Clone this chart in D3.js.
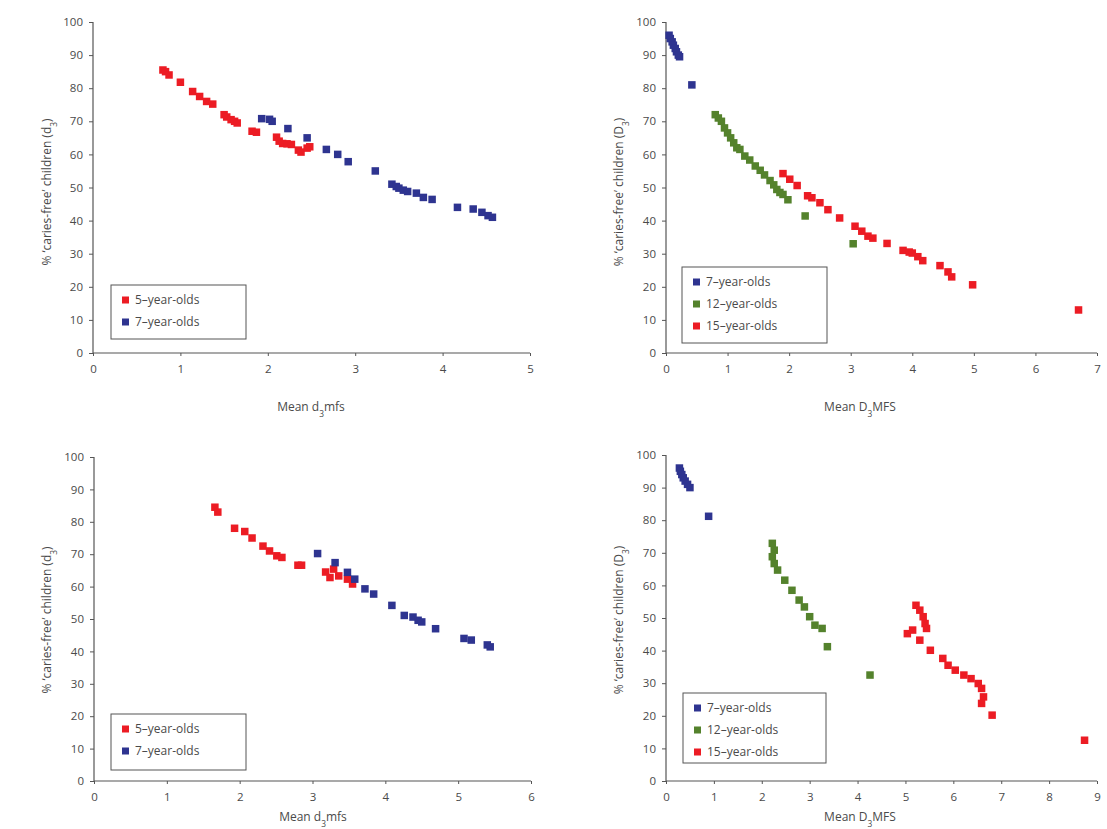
<!DOCTYPE html>
<html><head><meta charset="utf-8">
<script src="https://cdn.jsdelivr.net/npm/d3@7"></script>
<style>
body{margin:0;background:#fff}
svg{display:block}
text{font-family:"Open Sans","Noto Sans",sans-serif}
</style>
</head><body>
<svg id="chart" width="1107" height="829"></svg>
<script>
// ---------- data ----------
const yTicks = [0,10,20,30,40,50,60,70,80,90,100];
const xTicksA = [0,1,2,3,4,5];
const xTicksB = [0,1,2,3,4,5,6,7];
const xTicksC = [0,1,2,3,4,5,6];
const xTicksD = [0,1,2,3,4,5,6,7,8,9];

const legendTwo = ["5\u2013year-olds","7\u2013year-olds"];
const legendThree = ["7\u2013year-olds","12\u2013year-olds","15\u2013year-olds"];

// Panel 1: mean d3mfs vs % caries-free (d3)
const p1Age5 = [[0.8,85.5],[0.83,85],[0.87,84],[1.0,81.8],[1.14,79],[1.22,77.5],[1.3,76],[1.37,75.2],
  [1.5,72],[1.53,71.3],[1.58,70.5],[1.62,70],[1.65,69.5],[1.82,67],[1.87,66.7],[2.1,65.2],[2.13,64],
  [2.17,63.3],[2.22,63.2],[2.27,63],[2.35,61.3],[2.38,60.7],[2.45,61.9],[2.48,62.3]];
const p1Age7 = [[1.93,70.8],[2.02,70.6],[2.05,70],[2.23,67.8],[2.45,65],[2.67,61.5],[2.8,60],[2.92,57.8],
  [3.23,55],[3.42,51],[3.47,50.3],[3.5,49.8],[3.55,49.2],[3.6,48.8],[3.7,48.3],[3.78,47],[3.88,46.4],
  [4.17,44],[4.35,43.5],[4.45,42.5],[4.52,41.5],[4.57,41]];

// Panel 2: mean D3MFS vs % caries-free (D3)
const p2Age7 = [[0.05,96],[0.07,95],[0.1,94],[0.12,93],[0.15,92],[0.17,91],[0.2,90],[0.22,89.5],[0.42,81]];
const p2Age12 = [[0.8,72],[0.85,71],[0.9,70],[0.95,68],[1.0,66.5],[1.05,65],[1.1,63.5],[1.15,62],[1.2,61.5],
  [1.28,59.5],[1.36,58.3],[1.45,56.5],[1.53,55.2],[1.6,53.8],[1.69,52.1],[1.75,50.8],[1.8,49.4],[1.85,48.5],
  [1.9,47.9],[1.98,46.3],[2.26,41.4],[3.04,33]];
const p2Age15 = [[1.9,54.2],[2.01,52.5],[2.13,50.6],[2.3,47.5],[2.37,46.9],[2.5,45.4],[2.63,43.3],[2.82,40.8],
  [3.07,38.3],[3.18,36.8],[3.28,35.3],[3.36,34.7],[3.59,33.1],[3.85,31],[3.95,30.5],[4.0,30.2],[4.09,29.1],
  [4.17,27.9],[4.45,26.4],[4.58,24.5],[4.64,23],[4.98,20.6],[6.7,13]];

// Panel 3: mean d3mfs vs % caries-free (d3)
const p3Age5 = [[1.66,84.5],[1.7,83],[1.93,78],[2.07,77],[2.17,75],[2.32,72.5],[2.41,71],[2.51,69.5],[2.58,69],
  [2.8,66.6],[2.85,66.6],[3.18,64.5],[3.24,62.8],[3.29,65.4],[3.36,63.3],[3.48,62.3],[3.55,60.8]];
const p3Age7 = [[3.07,70.2],[3.31,67.4],[3.48,64.4],[3.58,62.3],[3.72,59.3],[3.84,57.7],[4.09,54.2],[4.26,51.1],
  [4.38,50.6],[4.45,49.6],[4.5,49.1],[4.69,47],[5.08,44],[5.18,43.5],[5.4,42],[5.44,41.4]];

// Panel 4: mean D3MFS vs % caries-free (D3)
const p4Age7 = [[0.28,96],[0.3,95],[0.33,94],[0.36,93],[0.4,92],[0.45,91],[0.5,90],[0.89,81.2]];
const p4Age12 = [[2.22,72.9],[2.26,70.8],[2.22,68.8],[2.26,66.7],[2.33,64.7],[2.48,61.6],[2.63,58.5],[2.78,55.5],
  [2.89,53.4],[3.0,50.4],[3.11,47.8],[3.26,46.8],[3.37,41.2],[4.26,32.5]];
const p4Age15 = [[5.22,53.9],[5.3,52.4],[5.37,50.4],[5.41,48.3],[5.44,46.8],[5.04,45.2],[5.15,46.3],[5.3,43.2],
  [5.52,40.1],[5.78,37.6],[5.89,35.5],[6.04,34],[6.22,32.5],[6.37,31.4],[6.52,29.9],[6.59,28.4],[6.63,25.8],
  [6.59,23.8],[6.81,20.2],[8.74,12.5]];

// ---------- styles ----------
const RED = "#ec1c24", BLUE = "#2e3490", GREEN = "#54822c";
const AXIS = "#555", TXT = "#4a4a4a";

const svg = d3.select("#chart");

function sub(t, main, s, rest){
  t.append("tspan").text(main);
  t.append("tspan").attr("baseline-shift","sub").attr("font-size","0.7em").text(s);
  t.append("tspan").text(rest);
}

function panel(cfg){
  const x = d3.scaleLinear().domain([0, cfg.xMax]).range([cfg.x0, cfg.x1]);
  const y = d3.scaleLinear().domain([0, 100]).range([cfg.y0, cfg.y1]);
  const g = svg.append("g");

  const xa = g.append("g").attr("transform",`translate(0,${cfg.y0})`)
    .call(d3.axisBottom(x).tickValues(cfg.xTicks).tickSize(3).tickPadding(9).tickFormat(d3.format("d")));
  const ya = g.append("g").attr("transform",`translate(${cfg.x0},0)`)
    .call(d3.axisLeft(y).tickValues(yTicks).tickSize(4).tickPadding(6).tickFormat(d3.format("d")));
  [xa, ya].forEach(a=>{
    a.select(".domain").attr("stroke",AXIS).attr("stroke-width",1.2);
    a.selectAll(".tick line").attr("stroke",AXIS);
    a.selectAll(".tick text").attr("fill",TXT).attr("font-size",11.5);
  });
  xa.select(".domain").attr("d",`M${cfg.x0},0H${cfg.x1}`);
  ya.select(".domain").attr("d",`M0,${cfg.y0}V${cfg.y1}`);

  // x title
  const xt = g.append("text").attr("x",cfg.xtX).attr("y",cfg.xtY).attr("text-anchor","middle")
    .attr("fill",TXT).attr("font-size",12);
  sub(xt, cfg.xTitle[0], "3", cfg.xTitle[1]);
  // y title
  const yt = g.append("text").attr("transform",`translate(${cfg.ytX},${cfg.ytY}) rotate(-90)`)
    .attr("text-anchor","middle").attr("fill",TXT).attr("font-size",12);
  sub(yt, "% \u2018caries-free\u2019 children (" + cfg.yLetter, "3", ")");

  // series
  const ms = 7.5;
  cfg.series.forEach(s=>{
    g.append("g").selectAll("rect").data(s.data).join("rect")
      .attr("x",d=>x(d[0])-ms/2).attr("y",d=>y(d[1])-ms/2)
      .attr("width",ms).attr("height",ms).attr("fill",s.color);
  });

  // legend
  const L = cfg.legend;
  const lg = g.append("g");
  lg.append("rect").attr("x",L.x).attr("y",L.y).attr("width",L.w).attr("height",L.h)
    .attr("fill","#fff").attr("stroke","#555").attr("stroke-width",1);
  cfg.series.forEach((s,i)=>{
    const cy = L.y + 15 + i*22;
    lg.append("rect").attr("x",L.x+11).attr("y",cy-3.5).attr("width",7).attr("height",7).attr("fill",s.color);
    lg.append("text").attr("x",L.x+24).attr("y",cy+4).attr("fill",TXT).attr("font-size",12).text(s.name);
  });
}

panel({xMax:5, xTicks:xTicksA, x0:93, x1:530, y0:353, y1:22,
  xTitle:["Mean d","mfs"], xtX:311, xtY:411, yLetter:"d", ytX:51, ytY:192,
  series:[{name:legendTwo[0],data:p1Age5,color:RED},{name:legendTwo[1],data:p1Age7,color:BLUE}],
  legend:{x:111,y:285,w:135,h:54}});

panel({xMax:7, xTicks:xTicksB, x0:666, x1:1097, y0:353, y1:22,
  xTitle:["Mean D","MFS"], xtX:860, xtY:411, yLetter:"D", ytX:623, ytY:192,
  series:[{name:legendThree[0],data:p2Age7,color:BLUE},{name:legendThree[1],data:p2Age12,color:GREEN},
          {name:legendThree[2],data:p2Age15,color:RED}],
  legend:{x:682,y:267,w:145,h:76}});

panel({xMax:6, xTicks:xTicksC, x0:94, x1:531, y0:781, y1:457,
  xTitle:["Mean d","mfs"], xtX:313, xtY:821, yLetter:"d", ytX:51, ytY:620,
  series:[{name:legendTwo[0],data:p3Age5,color:RED},{name:legendTwo[1],data:p3Age7,color:BLUE}],
  legend:{x:111,y:714,w:135,h:56}});

panel({xMax:9, xTicks:xTicksD, x0:666, x1:1097, y0:781, y1:455,
  xTitle:["Mean D","MFS"], xtX:860, xtY:821, yLetter:"D", ytX:623, ytY:620,
  series:[{name:legendThree[0],data:p4Age7,color:BLUE},{name:legendThree[1],data:p4Age12,color:GREEN},
          {name:legendThree[2],data:p4Age15,color:RED}],
  legend:{x:683,y:693,w:143,h:70}});
</script>
</body></html>
